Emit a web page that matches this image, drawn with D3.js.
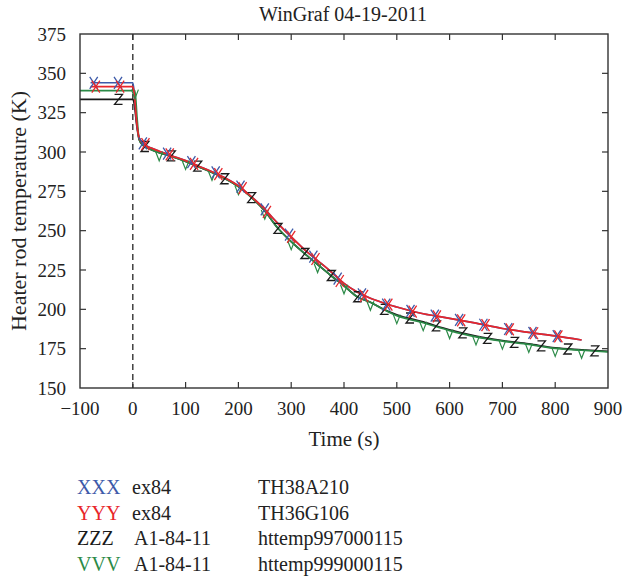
<!DOCTYPE html>
<html>
<head>
<meta charset="utf-8">
<title>WinGraf 04-19-2011</title>
<script src="https://d3js.org/d3.v7.min.js"></script>
<style>
  body { margin: 0; background: #fff; }
  svg text { font-family: "Liberation Serif", "Times New Roman", serif; fill: #222; }
</style>
</head>
<body>
<div id="chart"></div>
<script>
// ---- data ----
var xTicks = [-100, 0, 100, 200, 300, 400, 500, 600, 700, 800, 900];
var yTicks = [150, 175, 200, 225, 250, 275, 300, 325, 350, 375];

// XXX ex84 TH38A210 (blue)
var timeX = [-80, -50, -25, 0, 3, 7, 12, 20, 35, 50, 75, 100, 125, 150, 175, 200, 225, 250, 275, 300, 325, 350, 375, 400, 425, 450, 475, 500, 550, 600, 650, 700, 750, 800, 850];
var tempX = [344, 344, 344, 344, 337, 320, 309, 305.5, 302.5, 300.5, 297.5, 294.5, 291, 287.5, 283.5, 278.5, 271.5, 263.5, 254.5, 246, 238, 231, 224, 216.5, 211, 207, 204, 201.5, 197.2, 194.3, 191.2, 187.8, 185.3, 183.1, 180.5];
// YYY ex84 TH36G106 (red)
var timeY = [-80, -50, -25, 0, 3, 7, 12, 20, 35, 50, 75, 100, 125, 150, 175, 200, 225, 250, 275, 300, 325, 350, 375, 400, 425, 450, 475, 500, 550, 600, 650, 700, 750, 800, 850];
var tempY = [341.5, 341.5, 341.5, 341.5, 336, 320, 309, 305, 302.5, 300.5, 297.5, 294.5, 291, 287.5, 283.5, 278.5, 271.5, 263.5, 254.5, 246, 238, 231, 224, 216.5, 211, 207, 204, 201.5, 197.2, 194.3, 191.2, 187.8, 185.3, 183.1, 180.5];
// ZZZ A1-84-11 httemp997000115 (black)
var timeZ = [-100, 0, 3, 7, 12, 20, 35, 50, 75, 100, 125, 150, 175, 200, 225, 250, 275, 300, 325, 350, 375, 400, 425, 450, 475, 500, 550, 600, 650, 700, 750, 800, 850, 900];
var tempZ = [333.5, 333.5, 330, 318, 308, 304, 301.5, 299.5, 297, 294, 290.5, 287, 283, 278, 271, 262.5, 251.5, 243, 235.5, 228.5, 221.5, 215, 208, 204.5, 200, 196.5, 192, 187, 183, 180.2, 178, 175.5, 174.3, 173.3];
// VVV A1-84-11 httemp999000115 (green)
var timeV = [-100, 4, 8, 12, 20, 35, 50, 75, 100, 125, 150, 175, 200, 225, 250, 275, 300, 325, 350, 375, 400, 425, 450, 475, 500, 550, 600, 650, 700, 750, 800, 850, 900];
var tempV = [339, 339, 322, 308, 304, 301.5, 299.5, 297, 294, 290.5, 287, 283, 278, 271, 262.5, 251.5, 243, 235.5, 228.5, 221.5, 215, 208, 204.5, 200, 196, 191.5, 186.5, 182.5, 179.8, 177.7, 175.2, 174, 173];

// marker positions
var markXt = [-74, -28, 19, 65, 111, 157, 204, 250, 296, 342, 388, 434, 480, 526, 572, 618, 664, 711, 757, 803];
var markXk = [344, 344, 305.5, 299, 293.5, 287, 278, 263.5, 247.5, 233.5, 219.5, 209.5, 203, 199, 196, 193.3, 190.2, 187.5, 185, 183];
var markYt = [-70, -24, 24, 70, 116, 162, 208, 254, 300, 346, 392, 438, 484, 530, 576, 622, 668, 714, 760, 806];
var markYk = [341.5, 341.5, 305, 298.5, 292.5, 286, 277, 262, 246, 232, 218, 208.5, 203, 198.5, 195.5, 193, 190, 187.3, 184.8, 182.8];
var markZt = [-27, 23, 73, 123, 174, 225, 275, 326, 376, 426, 477, 525, 575, 625, 672, 723, 774, 824, 875];
var markZk = [333.5, 303.5, 297.5, 291, 283, 271, 251.5, 235.5, 221.5, 208, 200, 194.5, 189.5, 185, 181.5, 179, 176.8, 174.8, 173.6];
var markVt = [4, 50, 100, 150, 200, 250, 300, 350, 400, 450, 500, 550, 600, 650, 700, 750, 800, 850];
var markVk = [339, 299.5, 294, 287, 278, 262.5, 243, 228.5, 215, 204.5, 196, 191.5, 186.5, 182.5, 179.8, 177.7, 175.2, 174];

var legendSym = ["XXX", "YYY", "ZZZ", "VVV"];
var legendCase = ["ex84", "ex84", "A1-84-11", "A1-84-11"];
var legendId = ["TH38A210", "TH36G106", "httemp997000115", "httemp999000115"];

var colors = { X: "#3d5aa9", Y: "#e8262b", Z: "#1a1a1a", V: "#2b8a47" };

// ---- layout ----
var W = 625, H = 581;
var margin = { left: 80, right: 17, top: 34, bottom: 193 };
var width = W - margin.left - margin.right,
    height = H - margin.top - margin.bottom;

var svg = d3.select("#chart").append("svg")
    .attr("width", W).attr("height", H)
    .attr("font-family", "'Liberation Serif', 'Times New Roman', serif");

var g = svg.append("g")
    .attr("transform", "translate(" + margin.left + "," + margin.top + ")");

var x = d3.scaleLinear().domain([-100, 900]).range([0, width]);
var y = d3.scaleLinear().domain([150, 375]).range([height, 0]);

// title
svg.append("text")
  .attr("x", 343).attr("y", 21)
  .attr("text-anchor", "middle")
  .style("font-size", "20px")
  .text("WinGraf 04-19-2011");

// tick marks inward on all four sides
var tickLen = 6;
var axisCol = "#333";
g.append("g").selectAll("line").data(xTicks.slice(1, -1)).enter().append("line")
  .attr("x1", function(d) { return x(d); }).attr("x2", function(d) { return x(d); })
  .attr("y1", height).attr("y2", height - tickLen)
  .attr("stroke", axisCol).attr("stroke-width", 1.2);
g.append("g").selectAll("line").data(xTicks.slice(1, -1)).enter().append("line")
  .attr("x1", function(d) { return x(d); }).attr("x2", function(d) { return x(d); })
  .attr("y1", 0).attr("y2", tickLen)
  .attr("stroke", axisCol).attr("stroke-width", 1.2);
g.append("g").selectAll("line").data(yTicks.slice(1, -1)).enter().append("line")
  .attr("x1", 0).attr("x2", tickLen)
  .attr("y1", function(d) { return y(d); }).attr("y2", function(d) { return y(d); })
  .attr("stroke", axisCol).attr("stroke-width", 1.2);
g.append("g").selectAll("line").data(yTicks.slice(1, -1)).enter().append("line")
  .attr("x1", width).attr("x2", width - tickLen)
  .attr("y1", function(d) { return y(d); }).attr("y2", function(d) { return y(d); })
  .attr("stroke", axisCol).attr("stroke-width", 1.2);

// tick labels
g.append("g").selectAll("text").data(xTicks).enter().append("text")
  .attr("x", function(d) { return x(d); })
  .attr("y", height + 27)
  .attr("text-anchor", "middle")
  .style("font-size", "19px")
  .text(function(d) { return d < 0 ? "\u2212" + Math.abs(d) : d; });
g.append("g").selectAll("text").data(yTicks).enter().append("text")
  .attr("x", -14)
  .attr("y", function(d) { return y(d); })
  .attr("dy", "0.35em")
  .attr("text-anchor", "end")
  .style("font-size", "19px")
  .text(function(d) { return d; });

// axis titles
svg.append("text")
  .attr("x", 344).attr("y", 446)
  .attr("text-anchor", "middle")
  .style("font-size", "21px")
  .text("Time (s)");
svg.append("text")
  .attr("transform", "translate(26," + (margin.top + height / 2) + ") rotate(-90)")
  .attr("text-anchor", "middle")
  .style("font-size", "22px")
  .text("Heater rod temperature (K)");

// dashed line at t = 0
g.append("line")
  .attr("x1", x(0)).attr("x2", x(0))
  .attr("y1", 0).attr("y2", height)
  .attr("stroke", "#333").attr("stroke-width", 1.4)
  .attr("stroke-dasharray", "6,4");

// series lines
var line = d3.line()
  .x(function(d) { return x(d[0]); })
  .y(function(d) { return y(d[1]); })
  .curve(d3.curveMonotoneX);

function drawLine(ts, ks, col) {
  g.append("path")
    .datum(d3.zip(ts, ks))
    .attr("d", line)
    .attr("fill", "none")
    .attr("stroke", col)
    .attr("stroke-width", 1.7);
}
drawLine(timeZ, tempZ, colors.Z);
drawLine(timeX, tempX, colors.X);
drawLine(timeV, tempV, colors.V);
drawLine(timeY, tempY, colors.Y);

// markers
var symX = "M-4,-6L4,6M4,-6L-4,6";
var symZ = "M-4,-5L4,-5L-4,5L4,5";
var symV = "M-3.5,-1L0,8L3.5,-1";

function drawMarks(ts, ks, path, col, sw) {
  g.append("g").selectAll("path").data(d3.zip(ts, ks)).enter().append("path")
    .attr("transform", function(d) { return "translate(" + x(d[0]) + "," + y(d[1]) + ")"; })
    .attr("d", path)
    .attr("fill", "none")
    .attr("stroke", col)
    .attr("stroke-width", sw);
}
drawMarks(markZt, markZk, symZ, colors.Z, 1.3);
drawMarks(markVt, markVk, symV, colors.V, 1.2);
drawMarks(markXt, markXk, symX, colors.X, 1.3);
drawMarks(markYt, markYk, symX, colors.Y, 1.3);

// frame
g.append("rect")
  .attr("width", width).attr("height", height)
  .attr("fill", "none")
  .attr("stroke", axisCol).attr("stroke-width", 1.4);

// legend
var legCols = [colors.X, colors.Y, colors.Z, colors.V];
var leg = svg.append("g").selectAll("g").data(legendSym).enter().append("g")
  .attr("transform", function(d, i) { return "translate(0," + (494 + i * 25.5) + ")"; });
leg.append("text")
  .attr("x", 77)
  .style("font-size", "20px")
  .style("fill", function(d, i) { return legCols[i]; })
  .text(function(d) { return d; });
leg.append("text")
  .attr("x", function(d, i) { return i < 2 ? 132 : 134; })
  .style("font-size", "20px")
  .text(function(d, i) { return legendCase[i]; });
leg.append("text")
  .attr("x", 258)
  .style("font-size", "20px")
  .text(function(d, i) { return legendId[i]; });
</script>
</body>
</html>
